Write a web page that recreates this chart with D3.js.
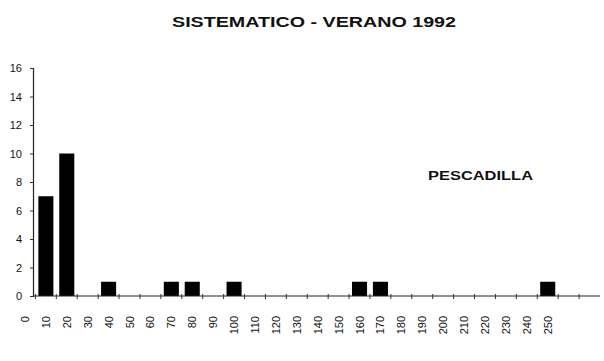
<!DOCTYPE html>
<html>
<head>
<meta charset="utf-8">
<script src="https://cdn.jsdelivr.net/npm/d3@7"></script>
<style>
  body { margin: 0; background: #fff; }
  svg text { font-family: "Liberation Sans", Arial, sans-serif; fill: #111; }
</style>
</head>
<body>
<div id="chart"></div>
<script>
var w = 604;
var h = 361;

// talla (clases) y numero de ejemplares
var categories = [0, 10, 20, 30, 40, 50, 60, 70, 80, 90, 100, 110, 120, 130,
                  140, 150, 160, 170, 180, 190, 200, 210, 220, 230, 240, 250, 260, 270];
var counts = [0, 7, 10, 0, 1, 0, 0, 1, 1, 0, 1, 0, 0, 0,
              0, 0, 1, 1, 0, 0, 0, 0, 0, 0, 0, 1, 0, 0];
var xLabels = [0, 10, 20, 30, 40, 50, 60, 70, 80, 90, 100, 110, 120, 130,
               140, 150, 160, 170, 180, 190, 200, 210, 220, 230, 240, 250];
var yTicks = [0, 2, 4, 6, 8, 10, 12, 14, 16];

var title = "SISTEMATICO - VERANO 1992";
var seriesName = "PESCADILLA";

var svg = d3.select("#chart")
            .append("svg")
            .attr("width", w)
            .attr("height", h);

var x = d3.scaleBand()
          .domain(categories)
          .range([14.5, 600])
          .paddingInner(0.28)
          .paddingOuter(0.14);

var y = d3.scaleLinear()
          .domain([0, 16])
          .range([296, 68]);

var axisX = 33; // y axis sits inside the first class

// bars
svg.append("g")
   .selectAll("rect")
   .data(categories.map(function (c, i) { return {c: c, v: counts[i]}; })
                   .filter(function (d) { return d.v > 0; }))
   .enter()
   .append("rect")
   .attr("x", function (d) { return x(d.c); })
   .attr("y", function (d) { return y(d.v); })
   .attr("width", x.bandwidth())
   .attr("height", function (d) { return y(0) - y(d.v); })
   .attr("fill", "#000");

// x axis line + tick marks on class boundaries
var step = x.step();
var xg = svg.append("g");
xg.append("line")
  .attr("x1", axisX).attr("x2", 600)
  .attr("y1", y(0)).attr("y2", y(0))
  .attr("stroke", "#222").attr("stroke-width", 1.2);

xg.selectAll("line.tk")
  .data(categories.slice(1))
  .enter()
  .append("line")
  .attr("class", "tk")
  .attr("x1", function (d) { return x(d) - step * x.paddingInner() / 2; })
  .attr("x2", function (d) { return x(d) - step * x.paddingInner() / 2; })
  .attr("y1", y(0) - 2)
  .attr("y2", y(0) + 3)
  .attr("stroke", "#333");

// rotated class labels
xg.selectAll("text")
  .data(xLabels)
  .enter()
  .append("text")
  .attr("transform", function (d) {
    return "translate(" + (x(d) + x.bandwidth() / 2 + 4) + "," + 316 + ") rotate(-90)";
  })
  .attr("text-anchor", "end")
  .attr("font-size", 11)
  .text(function (d) { return d; });

// y axis
var yAxis = d3.axisLeft(y)
              .tickValues(yTicks)
              .tickSize(3)
              .tickPadding(8)
              .tickFormat(d3.format("d"));

var yg = svg.append("g")
            .attr("transform", "translate(" + axisX + ",0)")
            .call(yAxis);
yg.select(".domain").attr("stroke", "#222").attr("stroke-width", 1.2);
yg.selectAll(".tick line").attr("stroke", "#333");
yg.selectAll(".tick text")
  .attr("font-size", 11)
  .attr("font-family", "Liberation Sans, Arial, sans-serif")
  .attr("fill", "#111");

// title
svg.append("text")
   .attr("x", 314)
   .attr("y", 27)
   .attr("text-anchor", "middle")
   .attr("font-size", 14)
   .attr("font-weight", 700)
   .attr("textLength", 284)
   .attr("lengthAdjust", "spacingAndGlyphs")
   .text(title);

// serie
svg.append("text")
   .attr("x", 428)
   .attr("y", 180)
   .attr("font-size", 12)
   .attr("font-weight", 700)
   .attr("textLength", 105)
   .attr("lengthAdjust", "spacingAndGlyphs")
   .text(seriesName);
</script>
</body>
</html>
